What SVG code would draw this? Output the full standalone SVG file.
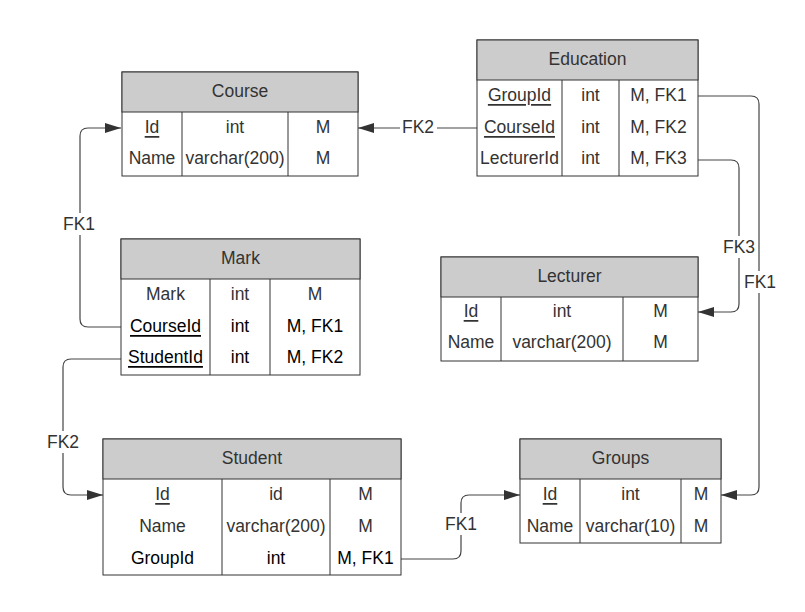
<svg xmlns="http://www.w3.org/2000/svg" width="805" height="612" viewBox="0 0 805 612">
<style>
  text { font-family: "Liberation Sans", Arial, sans-serif; font-size: 17.5px; fill: #333; text-anchor: middle; dominant-baseline: central; }
  .dk { fill: #000; }
  .u { text-decoration: underline; }
  .box { fill: #fff; stroke: #333; stroke-width: 1; }
  .hdr { fill: #ccc; stroke: #333; stroke-width: 1; }
  .ln { stroke: #333; stroke-width: 1; fill: none; }
  .con { stroke: #444; stroke-width: 1.2; fill: none; marker-end: url(#arr); }
  .lblbg { fill: #fff; }
</style>
<defs>
  <marker id="arr" markerUnits="userSpaceOnUse" markerWidth="16" markerHeight="10" refX="16" refY="5" orient="auto">
    <path d="M0,0 L16,5 L0,10 z" fill="#333"/>
  </marker>
</defs>
<rect width="805" height="612" fill="#fff"/>

<g id="connectors">
  <path class="con" d="M121,327 H88 Q80,327 80,319 V136 Q80,128 88,128 H121"/>
  <path class="con" d="M121,359 H71 Q63,359 63,367 V487 Q63,495 71,495 H103"/>
  <path class="con" d="M477,128 H358"/>
  <path class="con" d="M698,96 H751 Q759,96 759,104 V487 Q759,495 751,495 H721"/>
  <path class="con" d="M698,160 H731 Q739,160 739,168 V304 Q739,312 731,312 H698"/>
  <path class="con" d="M401,559 H453 Q461,559 461,551 V503 Q461,495 469,495 H520"/>
  <rect class="lblbg" x="60" y="213" width="38" height="22"/>
  <text x="79" y="224">FK1</text>
  <rect class="lblbg" x="44" y="431" width="38" height="22"/>
  <text x="63" y="442">FK2</text>
  <rect class="lblbg" x="400" y="117" width="37" height="22"/>
  <text x="418" y="127">FK2</text>
  <rect class="lblbg" x="741" y="271" width="38" height="22"/>
  <text x="760" y="282">FK1</text>
  <rect class="lblbg" x="720" y="236" width="38" height="22"/>
  <text x="739" y="247">FK3</text>
  <rect class="lblbg" x="442" y="513" width="38" height="22"/>
  <text x="461" y="524">FK1</text>
</g>

<g id="course">
  <rect class="box" x="122" y="72" width="236" height="104"/>
  <rect class="hdr" x="122" y="72" width="236" height="40"/>
  <line class="ln" x1="182" y1="112" x2="182" y2="176"/>
  <line class="ln" x1="288" y1="112" x2="288" y2="176"/>
  <text x="240" y="91">Course</text>
  <text x="152" y="127" class="u">Id</text>
  <text x="235" y="127">int</text>
  <text x="323" y="127">M</text>
  <text x="152" y="158">Name</text>
  <text x="235" y="158">varchar(200)</text>
  <text x="323" y="158">M</text>
</g>

<g id="education">
  <rect class="box" x="477" y="40" width="221" height="136"/>
  <rect class="hdr" x="477" y="40" width="221" height="40"/>
  <line class="ln" x1="562" y1="80" x2="562" y2="176"/>
  <line class="ln" x1="619" y1="80" x2="619" y2="176"/>
  <text x="587.5" y="59">Education</text>
  <text x="519.5" y="95" class="u">GroupId</text>
  <text x="590.5" y="95">int</text>
  <text x="658.5" y="95">M, FK1</text>
  <text x="519.5" y="127" class="u">CourseId</text>
  <text x="590.5" y="127">int</text>
  <text x="658.5" y="127">M, FK2</text>
  <text x="519.5" y="158">LecturerId</text>
  <text x="590.5" y="158">int</text>
  <text x="658.5" y="158">M, FK3</text>
</g>

<g id="mark">
  <rect class="box" x="121" y="239" width="239" height="136"/>
  <rect class="hdr" x="121" y="239" width="239" height="40"/>
  <line class="ln" x1="210" y1="279" x2="210" y2="375"/>
  <line class="ln" x1="270" y1="279" x2="270" y2="375"/>
  <text x="240.5" y="258">Mark</text>
  <text x="165.5" y="294">Mark</text>
  <text x="240" y="294">int</text>
  <text x="315" y="294">M</text>
  <text x="165.5" y="326" class="u dk">CourseId</text>
  <text x="240" y="326" class="dk">int</text>
  <text x="315" y="326" class="dk">M, FK1</text>
  <text x="165.5" y="357" class="u dk">StudentId</text>
  <text x="240" y="357" class="dk">int</text>
  <text x="315" y="357" class="dk">M, FK2</text>
</g>

<g id="lecturer">
  <rect class="box" x="441" y="257" width="257" height="104"/>
  <rect class="hdr" x="441" y="257" width="257" height="40"/>
  <line class="ln" x1="501" y1="297" x2="501" y2="361"/>
  <line class="ln" x1="623" y1="297" x2="623" y2="361"/>
  <text x="569.5" y="276">Lecturer</text>
  <text x="471" y="311" class="u">Id</text>
  <text x="562" y="311">int</text>
  <text x="660.5" y="311">M</text>
  <text x="471" y="342">Name</text>
  <text x="562" y="342">varchar(200)</text>
  <text x="660.5" y="342">M</text>
</g>

<g id="student">
  <rect class="box" x="103" y="439" width="298" height="136"/>
  <rect class="hdr" x="103" y="439" width="298" height="40"/>
  <line class="ln" x1="222" y1="479" x2="222" y2="575"/>
  <line class="ln" x1="330" y1="479" x2="330" y2="575"/>
  <text x="252" y="458">Student</text>
  <text x="162.5" y="494" class="u">Id</text>
  <text x="276" y="494">id</text>
  <text x="365.5" y="494">M</text>
  <text x="162.5" y="526">Name</text>
  <text x="276" y="526">varchar(200)</text>
  <text x="365.5" y="526">M</text>
  <text x="162.5" y="558" class="dk">GroupId</text>
  <text x="276" y="558" class="dk">int</text>
  <text x="365.5" y="558" class="dk">M, FK1</text>
</g>

<g id="groups">
  <rect class="box" x="520" y="439" width="201" height="104"/>
  <rect class="hdr" x="520" y="439" width="201" height="40"/>
  <line class="ln" x1="580" y1="479" x2="580" y2="543"/>
  <line class="ln" x1="681" y1="479" x2="681" y2="543"/>
  <text x="620.5" y="458">Groups</text>
  <text x="550" y="494" class="u">Id</text>
  <text x="630.5" y="494">int</text>
  <text x="701" y="494">M</text>
  <text x="550" y="526">Name</text>
  <text x="630.5" y="526">varchar(10)</text>
  <text x="701" y="526">M</text>
</g>
</svg>
